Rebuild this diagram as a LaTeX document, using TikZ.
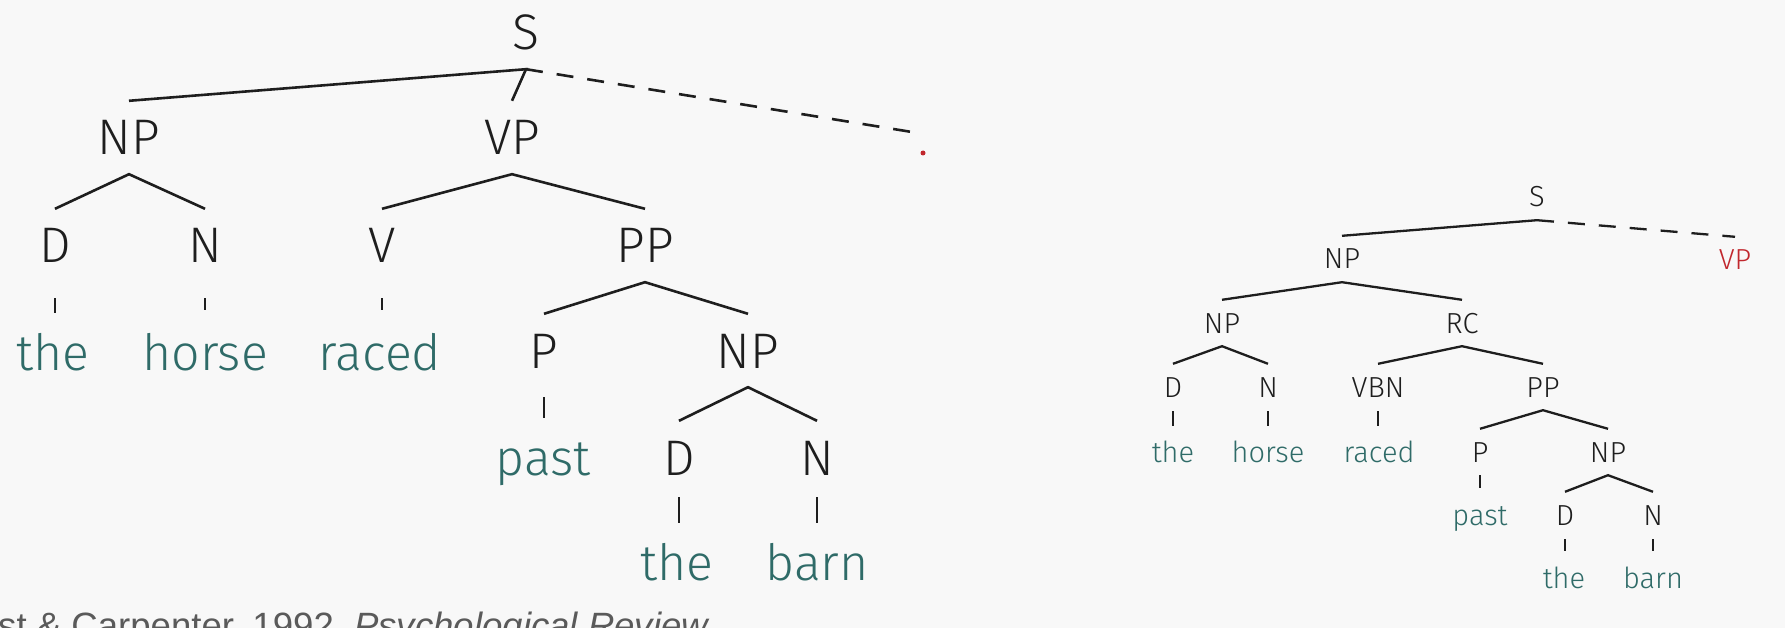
\documentclass[tikz,border=0pt]{standalone}
\usepackage{fontspec}
\setmainfont{Fira Sans Light}
\newfontfamily\citefont{Liberation Sans}
\definecolor{leaf}{HTML}{2F6B68}
\definecolor{gapred}{HTML}{C1272D}
\definecolor{paper}{HTML}{F8F8F8}
\definecolor{ink}{HTML}{1E1E1E}
\definecolor{citegray}{HTML}{5A5A5A}
\begin{document}
\begin{tikzpicture}[x=1pt,y=-1pt,
  bigcat/.style={font=\fontsize{50}{50}\selectfont, text height=35pt, text depth=0pt,
    inner xsep=0pt, inner ysep=19pt, anchor=base, text=ink},
  bigword/.style={bigcat, text=leaf, text height=38pt},
  smallcat/.style={font=\fontsize{29}{29}\selectfont, text height=20pt, text depth=0pt,
    inner xsep=0pt, inner ysep=13pt, anchor=base, text=ink},
  smallword/.style={smallcat, text=leaf, text height=24pt},
  bigedge/.style={draw=ink, line width=2.6pt},
  bigunary/.style={draw=ink, line width=1.8pt},
  smalledge/.style={draw=ink, line width=2.3pt},
  smallunary/.style={draw=ink, line width=1.6pt},
  gapedge/.style={draw=ink, line width=2.6pt, dash pattern=on 17pt off 14pt},
  smallgapedge/.style={draw=ink, line width=2.3pt, dash pattern=on 17pt off 14pt}]
\useasboundingbox (0,0) rectangle (1785,628);
\fill[paper] (0,0) rectangle (1785,628);
\clip (0,0) rectangle (1785,628);

% ---------- left tree ----------
\node[bigcat] (S) at (526,50) {S};
\node[bigcat] (np) at (129,155) {NP};
\node[bigcat] (vp) at (512,155) {VP};
\node[circle, fill=gapred, minimum size=5pt, inner sep=0pt] (dot) at (923,153) {};
\coordinate (gapend) at (918,133);
\node[bigcat] (d) at (55,263) {D};
\node[bigcat] (n) at (205,263) {N};
\node[bigcat] (v) at (382,263) {V};
\node[bigcat] (pp) at (645,263) {PP};
\node[bigword] (the) at (53,370) {the};
\node[bigword] (horse) at (205,370) {horse};
\node[bigword] (raced) at (380,370) {raced};
\node[bigcat] (p) at (544,368) {P};
\node[bigcat] (np2) at (748,368) {NP};
\node[bigword] (past) at (543,475) {past};
\node[bigcat] (d2) at (679,475) {D};
\node[bigcat] (n2) at (817,475) {N};
\node[bigword] (the2) at (677,580) {the};
\node[bigword] (barn) at (817,580) {barn};

\path[bigedge] (np.north) -- (S.south) -- (vp.north);
\path[gapedge] (S.south) -- (gapend);
\path[bigedge] (d.north) -- (np.south) -- (n.north);
\path[bigedge] (v.north) -- (vp.south) -- (pp.north);
\path[bigedge] (p.north) -- (pp.south) -- (np2.north);
\path[bigedge] (d2.north) -- (np2.south) -- (n2.north);
\path[bigedge, shorten <=16pt] (d.south) -- (d.south |- the.north);
\path[bigunary, shorten <=16pt, shorten >=3pt] (n.south) -- (n.south |- horse.north);
\path[bigunary, shorten <=16pt, shorten >=3pt] (v.south) -- (v.south |- raced.north);
\path[bigunary, shorten <=10pt] (p.south) -- (p.south |- past.north);
\path[bigunary, shorten <=3pt] (d2.south) -- (d2.south |- the2.north);
\path[bigedge, shorten <=3pt] (n2.south) -- (n2.south |- barn.north);

% ---------- right tree ----------
\node[smallcat] (rS) at (1537,207) {S};
\node[smallcat] (rnp) at (1342,269) {NP};
\node[smallcat, text=gapred] (rvp) at (1735,270) {VP};
\node[smallcat] (rnpa) at (1222,333) {NP};
\node[smallcat] (rrc) at (1462,333) {RC};
\node[smallcat] (rd) at (1173,397) {D};
\node[smallcat] (rn) at (1268,397) {N};
\node[smallcat] (rvbn) at (1378,397) {VBN};
\node[smallcat] (rpp) at (1543,397) {PP};
\node[smallword] (rthe) at (1173,462) {the};
\node[smallword] (rhorse) at (1268,462) {horse};
\node[smallword] (rraced) at (1379,462) {raced};
\node[smallcat] (rp) at (1480,462) {P};
\node[smallcat] (rnpb) at (1608,462) {NP};
\node[smallword] (rpast) at (1480,525) {past};
\node[smallcat] (rdb) at (1565,525) {D};
\node[smallcat] (rnb) at (1653,525) {N};
\node[smallword] (rtheb) at (1564,588) {the};
\node[smallword] (rbarn) at (1653,588) {barn};

\path[smalledge] (rnp.north) -- (rS.south);
\path[smallgapedge] (rS.south) -- (rvp.north);
\path[smalledge] (rnpa.north) -- (rnp.south) -- (rrc.north);
\path[smalledge] (rd.north) -- (rnpa.south) -- (rn.north);
\path[smalledge] (rvbn.north) -- (rrc.south) -- (rpp.north);
\path[smalledge] (rp.north) -- (rpp.south) -- (rnpb.north);
\path[smalledge] (rdb.north) -- (rnpb.south) -- (rnb.north);
\path[smallunary, shorten <=1pt, shorten >=-1pt] (rd.south) -- (rd.south |- rthe.north);
\path[smallunary, shorten <=1pt, shorten >=-1pt] (rn.south) -- (rn.south |- rhorse.north);
\path[smallunary, shorten <=1pt, shorten >=-1pt] (rvbn.south) -- (rvbn.south |- rraced.north);
\path[smalledge] (rp.south) -- (rp.south |- rpast.north);
\path[smallunary, shorten <=1pt] (rdb.south) -- (rdb.south |- rtheb.north);
\path[smallunary, shorten <=1pt] (rnb.south) -- (rnb.south |- rbarn.north);

% ---------- citation ----------
\node[anchor=base west, inner sep=0pt, text=citegray,
  font=\citefont\fontsize{36.6}{40}\selectfont] (cite) at (-2,638)
  {st \& Carpenter, 1992, \textit{Psychological Review}};
\end{tikzpicture}
\end{document}
